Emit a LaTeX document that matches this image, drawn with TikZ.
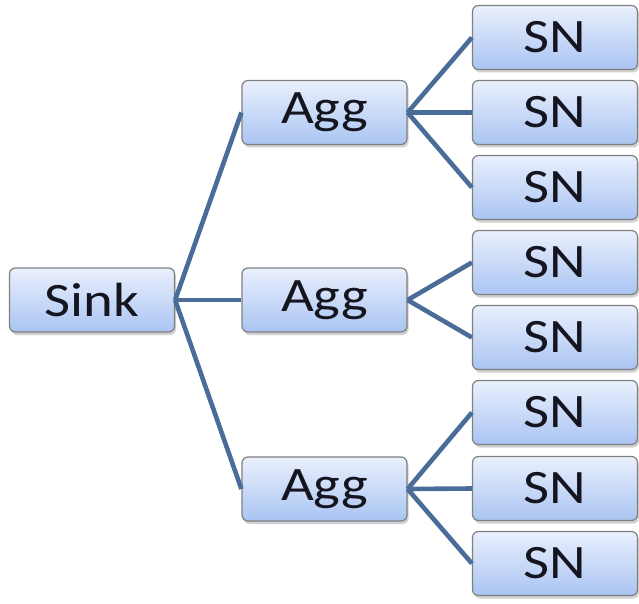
\documentclass[tikz,border=0pt]{standalone}
\usepackage{fontspec}
\setmainfont{Carlito}
\usetikzlibrary{shadows}
\definecolor{linkblue}{HTML}{4A6C98}
\definecolor{boxtop}{HTML}{EAF0FD}
\definecolor{boxbot}{HTML}{A9C4F2}
\definecolor{boxedge}{HTML}{808080}
\definecolor{ink}{HTML}{151520}
\tikzset{
  unit/.style={draw=boxedge, line width=1.2pt, rounded corners=6pt,
    top color=boxtop, bottom color=boxbot,
    minimum width=165pt, minimum height=64pt, inner sep=0pt,
    drop shadow={shadow xshift=1.5pt, shadow yshift=-3pt, opacity=0.3, fill=black!60},
    text=ink, font=\fontsize{48}{48}\selectfont},
  link/.style={draw=linkblue, line width=4.6pt}
}
\newcommand{\lbl}[1]{\scalebox{1.18}[1]{#1}}
\begin{document}
\begin{tikzpicture}[x=1pt, y=-1pt]
  \useasboundingbox (0,0) rectangle (639,604);
  % root
  \node[unit] (sink) at (92,300) {\lbl{Sink}};
  % aggregators
  \node[unit] (a1) at (324.5,112.5) {\lbl{Agg}};
  \node[unit] (a2) at (324.5,300) {\lbl{Agg}};
  \node[unit] (a3) at (324.5,489) {\lbl{Agg}};
  % sensor nodes
  \foreach \i/\y in {1/37.5, 2/112.5, 3/187.5, 4/262.5, 5/337.5, 6/412.5, 7/488.5, 8/563.5}
    \node[unit] (s\i) at (555,\y) {\lbl{SN}};
  % connectors
  \foreach \a in {a1,a2,a3}
    \draw[link] (sink.east) -- (\a.west);
  \foreach \s in {s1,s2,s3}
    \draw[link] (a1.east) -- (\s.west);
  \foreach \s in {s4,s5}
    \draw[link] (a2.east) -- (\s.west);
  \foreach \s in {s6,s7,s8}
    \draw[link] (a3.east) -- (\s.west);
\end{tikzpicture}
\end{document}
